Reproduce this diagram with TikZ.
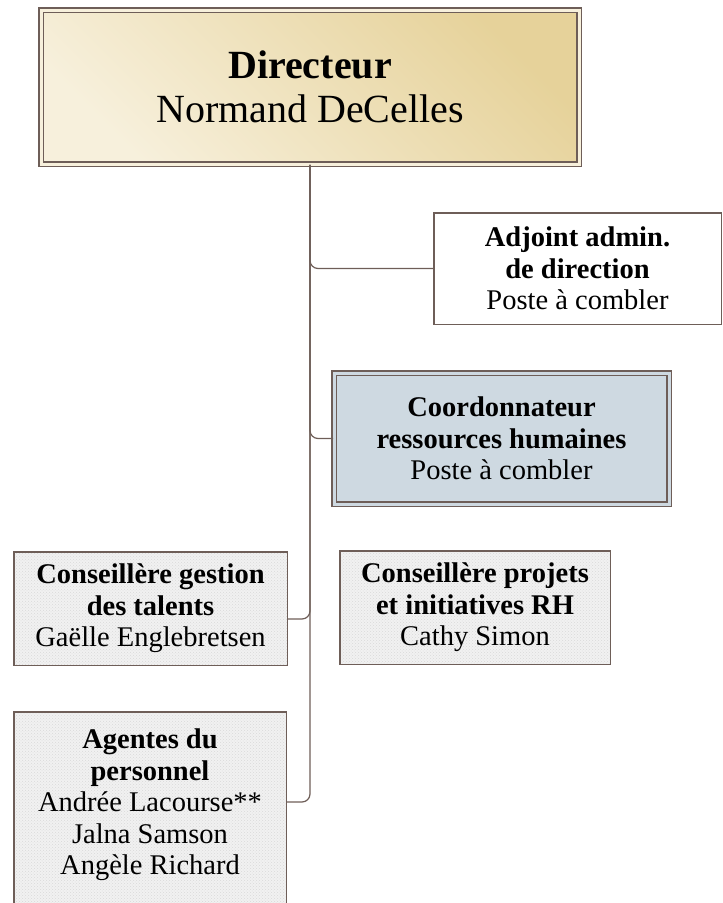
\documentclass[tikz,border=0pt]{standalone}
\usepackage{fontspec}
\setmainfont{Liberation Serif}
\usepackage{xcolor}
\definecolor{OrgBrown}{HTML}{6E5E58}
\definecolor{DirLight}{HTML}{F7F0DC}
\definecolor{DirDark}{HTML}{E6D29A}
\definecolor{CoordBlue}{HTML}{CED9E1}
\definecolor{DotGray}{HTML}{F1F1F1}
\usepackage{tikz}
\usetikzlibrary{patterns}
\tikzset{
	orgtext/.style={align=center,text=black,inner sep=0pt,font=\fontsize{28.5}{31.5}\selectfont},
	orgconn/.style={draw=OrgBrown,line width=1.2pt,rounded corners=8pt}
}

\begin{document}
\begin{tikzpicture}[x=1pt,y=-1pt,
	plainbox/.style={orgtext,draw=OrgBrown,line width=1.5pt,fill=white},
	dotbox/.style={orgtext,preaction={fill=DotGray},pattern=crosshatch dots,pattern color=gray!30,draw=OrgBrown,line width=1.5pt},
	dblbox/.style={orgtext,draw=OrgBrown,line width=1.6pt,double=#1,double distance=3pt}]
		
		\useasboundingbox (0,0) rectangle (723,903);
		
		\def\TrunkX{310}
		
		%% DIRECTEUR
		\node[dblbox=DirLight,top color=DirDark,bottom color=DirLight,shading angle=-45,minimum width=538pt,minimum height=154pt,font=\fontsize{40}{44}\selectfont] (dir) at (\TrunkX,87) {\textbf{Directeur}\\Normand DeCelles};
		
		%% RIGHT SIDE
		\node[plainbox,minimum width=287.5pt,minimum height=111.5pt] (adj) at (577.5,268.5) {\textbf{Adjoint admin.}\\\textbf{de direction}\\Poste à combler};
		
		\node[dblbox=CoordBlue,fill=CoordBlue,minimum width=335pt,minimum height=131pt] (coord) at (501.5,438.5) {\textbf{Coordonnateur}\\\textbf{ressources humaines}\\Poste à combler};
		
		%% CONSEILLERES
		\node[dotbox,minimum width=273.5pt,minimum height=113.5pt] (gest) at (150.5,608.5) {\textbf{Conseillère gestion}\\\textbf{des talents}\\Gaëlle Englebretsen};
		
		\node[dotbox,minimum width=270.5pt,minimum height=113.5pt] (proj) at (475,607.5) {\textbf{Conseillère projets}\\\textbf{et initiatives RH}\\Cathy Simon};
		
		%% AGENTES (box runs past the bottom edge)
		\node[dotbox,minimum width=272.5pt,anchor=north,inner ysep=17pt,text depth=150pt] (agentes) at (150,711) {\textbf{Agentes du}\\\textbf{personnel}\\Andrée Lacourse**\\Jalna Samson\\Angèle Richard};
		
		%% CONNECTORS
		\draw[orgconn] (dir.south) |- (adj.west);
		\draw[orgconn] (dir.south) |- (coord.west);
		\draw[orgconn] (dir.south) |- ([yshift=-10.5pt]gest.east);
		\draw[orgconn] (dir.south) |- ([yshift=-91pt]agentes.north east);
		
	\end{tikzpicture}
\end{document}
